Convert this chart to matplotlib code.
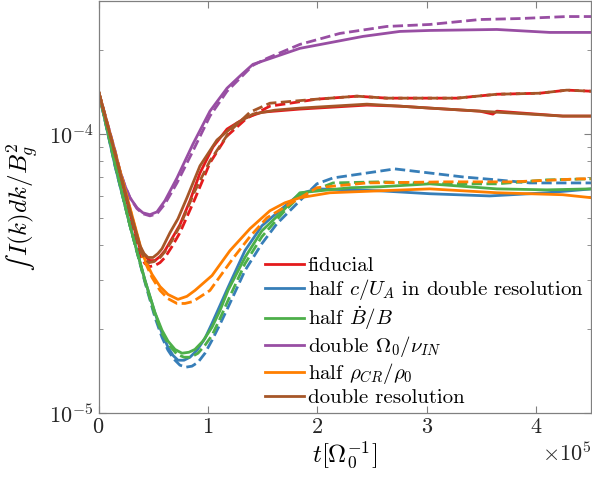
import matplotlib
matplotlib.use('Agg')
import matplotlib.pyplot as plt
from matplotlib.ticker import LogLocator, NullFormatter, ScalarFormatter

plt.rcParams['font.family'] = 'cmr10'
plt.rcParams['mathtext.fontset'] = 'cm'
plt.rcParams['axes.formatter.use_mathtext'] = True

# time in units of 1e5 / Omega_0, integral in units of 1e-5 B_g^2
# fiducial
fid_t = [0, 0.169, 0.288, 0.379, 0.425, 0.470, 0.516, 0.562, 0.607, 0.671, 0.744, 0.836, 0.927,
         1.046, 1.174, 1.338, 1.493, 1.840, 2.452, 2.753, 3.027, 3.484, 3.603, 3.639, 4.242, 4.507]
fid_v = [14.24, 7.88, 5.18, 3.88, 3.64, 3.52, 3.52, 3.64, 3.82, 4.22, 4.73, 5.77, 7.25,
         8.99, 10.42, 11.41, 11.98, 12.29, 12.70, 12.59, 12.39, 12.08, 11.79, 12.08, 11.60, 11.60]
fid_dt = [0, 0.169, 0.288, 0.379, 0.425, 0.470, 0.516, 0.562, 0.607, 0.671, 0.744, 0.881, 1.018,
          1.174, 1.356, 1.566, 1.749, 1.995, 2.361, 2.635, 2.872, 3.274, 3.639, 4.032, 4.279, 4.507]
fid_dv = [14.24, 7.69, 4.97, 3.67, 3.43, 3.35, 3.38, 3.46, 3.61, 3.95, 4.43, 5.86, 7.88,
          9.84, 11.41, 12.59, 12.90, 13.34, 13.67, 13.45, 13.45, 13.45, 13.89, 14.01, 14.37, 14.24]

# half c/U_A in double resolution
cua_t = [0, 0.151, 0.288, 0.425, 0.516, 0.580, 0.635, 0.680, 0.726, 0.781, 0.836, 0.900, 0.973,
         1.037, 1.110, 1.183, 1.338, 1.493, 1.685, 1.840, 1.995, 2.297, 2.571, 3.027, 3.575,
         4.096, 4.507]
cua_v = [14.24, 7.69, 4.69, 2.985, 2.28, 1.931, 1.720, 1.61, 1.546, 1.546, 1.585, 1.679, 1.853,
         2.096, 2.43, 2.818, 3.82, 4.69, 5.44, 6.11, 6.36, 6.31, 6.26, 6.11, 6.00,
         6.16, 6.36]
cua_dt = [0, 0.151, 0.288, 0.425, 0.516, 0.580, 0.635, 0.689, 0.744, 0.799, 0.854, 0.909, 0.973,
          1.037, 1.110, 1.183, 1.338, 1.493, 1.630, 1.840, 1.995, 2.142, 2.452, 2.708, 3.027,
          3.329, 3.639, 3.941, 4.397, 4.507]
cua_dv = [14.24, 7.69, 4.69, 2.937, 2.20, 1.868, 1.679, 1.56, 1.484, 1.46, 1.472, 1.52, 1.638,
          1.823, 2.08, 2.39, 3.24, 4.05, 4.77, 5.77, 6.63, 6.96, 7.25, 7.50, 7.25,
          7.02, 6.85, 6.68, 6.68, 6.68]

# half Bdot/B
bdot_t = [0, 0.151, 0.288, 0.425, 0.516, 0.580, 0.635, 0.699, 0.763, 0.826, 0.881, 0.954, 1.037,
          1.110, 1.183, 1.338, 1.493, 1.685, 1.840, 2.297, 2.571, 3.027, 3.639, 4.096, 4.507]
bdot_v = [14.24, 7.82, 4.69, 2.985, 2.29, 1.980, 1.81, 1.69, 1.638, 1.651, 1.69, 1.81, 2.03,
          2.33, 2.75, 3.61, 4.50, 5.31, 6.16, 6.42, 6.47, 6.63, 6.36, 6.31, 6.36]
bdot_dt = [0, 0.151, 0.288, 0.425, 0.516, 0.580, 0.653, 0.717, 0.781, 0.845, 0.909, 0.973, 1.037,
           1.110, 1.183, 1.338, 1.493, 1.685, 1.840, 2.142, 2.571, 3.183, 3.639, 4.096, 4.507]
bdot_dv = [14.24, 7.82, 4.69, 2.96, 2.24, 1.931, 1.735, 1.624, 1.585, 1.585, 1.638, 1.75, 1.899,
           2.18, 2.53, 3.43, 4.29, 5.22, 6.00, 6.68, 6.74, 6.63, 6.63, 6.85, 6.91]

# double Omega_0/nu_IN
nu_t = [0, 0.151, 0.196, 0.242, 0.288, 0.352, 0.406, 0.470, 0.534, 0.607, 0.717, 0.863, 1.018,
        1.174, 1.300, 1.411, 1.600, 1.840, 2.100, 2.416, 2.753, 3.027, 3.639, 4.123, 4.507]
nu_v = [14.24, 8.70, 7.38, 6.52, 5.91, 5.44, 5.22, 5.14, 5.26, 5.77, 6.96, 9.21, 12.08,
        14.60, 16.25, 17.78, 18.84, 20.29, 21.21, 22.39, 23.33, 23.52, 23.71, 23.14, 23.14]
nu_dt = [0, 0.151, 0.196, 0.242, 0.288, 0.352, 0.406, 0.470, 0.534, 0.607, 0.717, 0.863, 1.018,
         1.174, 1.411, 1.539, 1.840, 2.205, 2.635, 3.027, 3.484, 3.849, 4.279, 4.507]
nu_dv = [14.24, 8.70, 7.38, 6.52, 5.91, 5.40, 5.18, 5.09, 5.18, 5.62, 6.68, 8.70, 11.60,
         14.24, 17.64, 18.68, 20.96, 22.95, 24.31, 24.71, 25.74, 25.95, 26.38, 26.38]

# half rho_CR/rho_0
rho_t = [0, 0.196, 0.406, 0.489, 0.562, 0.635, 0.726, 0.808, 0.881, 1.037, 1.201, 1.384, 1.566,
         1.703, 1.840, 2.114, 2.571, 3.027, 3.639, 4.242, 4.507]
rho_v = [14.24, 7.38, 3.67, 3.14, 2.84, 2.66, 2.555, 2.62, 2.75, 3.11, 3.82, 4.58, 5.31,
         5.67, 5.91, 6.16, 6.26, 6.36, 6.16, 6.06, 5.91]
rho_dt = [0, 0.196, 0.406, 0.489, 0.562, 0.635, 0.717, 0.790, 0.863, 1.018, 1.228, 1.384, 1.539,
          1.749, 1.995, 2.452, 3.183, 3.785, 4.397, 4.507]
rho_dv = [14.24, 7.38, 3.61, 3.06, 2.75, 2.57, 2.47, 2.47, 2.51, 2.75, 3.58, 4.29, 5.01,
          5.62, 6.42, 6.68, 6.74, 6.74, 6.91, 6.91]

# double resolution
res_t = [0, 0.169, 0.288, 0.379, 0.416, 0.452, 0.498, 0.543, 0.580, 0.653, 0.726, 0.808, 0.927,
         1.082, 1.265, 1.411, 1.612, 1.840, 2.452, 2.753, 3.027, 3.639, 4.242, 4.507]
res_v = [14.24, 8.01, 5.31, 3.98, 3.73, 3.61, 3.61, 3.73, 3.88, 4.43, 4.97, 5.91, 7.69,
         9.52, 10.95, 11.79, 12.18, 12.39, 12.80, 12.59, 12.39, 11.98, 11.60, 11.60]
res_dt = [0, 0.169, 0.288, 0.379, 0.425, 0.461, 0.507, 0.562, 0.607, 0.671, 0.744, 0.881, 1.018,
          1.201, 1.384, 1.566, 1.995, 2.361, 2.635, 2.872, 3.274, 3.639, 4.032, 4.279, 4.507]
res_dv = [14.24, 8.01, 5.22, 3.82, 3.58, 3.46, 3.49, 3.61, 3.79, 4.15, 4.69, 6.26, 8.01,
          10.25, 11.98, 12.90, 13.34, 13.67, 13.45, 13.45, 13.45, 13.89, 14.01, 14.37, 14.24]

runs = [
    ('fiducial', '#e41a1c', fid_t, fid_v, fid_dt, fid_dv),
    (r'half $c/U_A$ in double resolution', '#377eb8', cua_t, cua_v, cua_dt, cua_dv),
    (r'half $\dot{B}/B$', '#4daf4a', bdot_t, bdot_v, bdot_dt, bdot_dv),
    (r'double $\Omega_0/\nu_{IN}$', '#984ea3', nu_t, nu_v, nu_dt, nu_dv),
    (r'half $\rho_{CR}/\rho_0$', '#ff7f00', rho_t, rho_v, rho_dt, rho_dv),
    ('double resolution', '#a65628', res_t, res_v, res_dt, res_dv),
]

fig = plt.figure(figsize=(5.92, 4.84), dpi=100)
ax = fig.add_axes([0.1664, 0.1467, 0.8320, 0.8513])

handles = []
for label, color, t, v, dt, dv in runs:
    h, = ax.plot([x*1e5 for x in t], [y*1e-5 for y in v], '-', color=color, lw=2, label=label)
    ax.plot([x*1e5 for x in dt], [y*1e-5 for y in dv], '--', color=color, lw=2)
    handles.append(h)

ax.set_yscale('log')
ax.set_xlim(0, 4.5e5)
ax.set_ylim(1e-5, 3e-4)
ax.yaxis.set_minor_locator(LogLocator(base=10, subs=range(2, 10)))
ax.yaxis.set_minor_formatter(NullFormatter())

fmt = ScalarFormatter(useMathText=True)
fmt.set_powerlimits((0, 0))
ax.xaxis.set_major_formatter(fmt)
ax.set_xticks([0, 1e5, 2e5, 3e5, 4e5])

gray = '#808080'
for s in ax.spines.values():
    s.set_color(gray)
    s.set_linewidth(0.9)
ax.tick_params(which='both', direction='in', top=True, right=True, color=gray,
               labelsize=16, labelcolor='#262626')
ax.tick_params(which='major', length=5)
ax.tick_params(which='minor', length=3)
ax.xaxis.get_offset_text().set_fontsize(16)

ax.set_xlabel(r'$t[\Omega_0^{-1}]$', fontsize=18, labelpad=2)
ax.set_ylabel('$\u222b\\, I(k)dk/B_g^2$', fontsize=18, labelpad=6)

ax.legend(handles=handles, loc='upper left', bbox_to_anchor=(0.338, 0.38), frameon=False,
          fontsize=15, handlelength=1.85, handletextpad=0.2, labelspacing=0.1,
          borderpad=0, borderaxespad=0)

fig.savefig('out.png', dpi=100)
